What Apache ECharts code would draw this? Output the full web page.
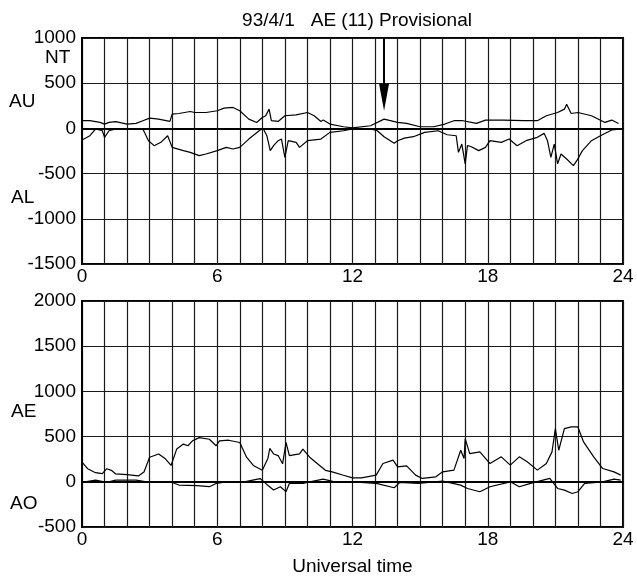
<!DOCTYPE html>
<html>
<head>
<meta charset="utf-8">
<script src="https://cdn.jsdelivr.net/npm/echarts@6/dist/echarts.min.js"></script>
<style>html,body{margin:0;padding:0;background:#fff}#c{width:637px;height:577px}</style>
</head>
<body>
<div id="c"></div>
<script>
// ---- Data (hours UT, values nT) ----
var xTickLabels = [0, 6, 12, 18, 24];
var topYTicks = [-1500, -1000, -500, 0, 500, 1000];
var bottomYTicks = [-500, 0, 500, 1000, 1500, 2000];

var auHours = [0, 0.35, 0.8, 1.0, 1.2, 1.5, 2.0, 2.4, 2.7, 3.0, 3.4, 3.9, 4.0, 4.3, 4.8, 5.0, 5.5, 6.0, 6.3, 6.7, 7.0, 7.4, 7.75, 8.0, 8.15, 8.3, 8.4, 8.7, 9.0, 9.5, 10.0, 10.3, 10.6, 10.7, 11.0, 11.6, 12.0, 12.8, 13.4, 14.0, 14.4, 15.0, 15.6, 16.1, 16.5, 16.9, 17.5, 17.9, 18.7, 19.6, 20.2, 20.6, 21.1, 21.4, 21.5, 21.7, 22.0, 22.6, 23.2, 23.5, 23.8];
var auValues = [85, 85, 66, 48, 66, 74, 48, 55, 85, 114, 103, 77, 158, 165, 187, 176, 176, 195, 224, 232, 195, 103, 66, 121, 140, 213, 85, 77, 140, 150, 176, 140, 77, 92, 48, 18, 5, 29, 103, 66, 55, 18, 18, 48, 85, 85, 55, 92, 92, 85, 85, 140, 176, 213, 268, 165, 176, 140, 66, 92, 55];

var alHours = [0, 0.35, 0.6, 0.9, 1.0, 1.2, 1.5, 2.0, 2.7, 2.95, 3.2, 3.5, 3.8, 4.0, 4.5, 4.8, 5.2, 5.5, 6.0, 6.4, 6.7, 7.0, 7.4, 7.9, 8.05, 8.2, 8.35, 8.5, 8.7, 8.85, 9.0, 9.15, 9.5, 9.65, 10.0, 10.6, 11.0, 11.6, 12.0, 12.8, 13.1, 13.4, 13.85, 14.0, 14.3, 14.7, 15.2, 15.8, 16.2, 16.6, 16.7, 16.85, 17.0, 17.1, 17.25, 17.6, 17.9, 18.1, 18.6, 18.95, 19.3, 19.7, 20.2, 20.5, 20.65, 20.8, 20.95, 21.1, 21.25, 21.5, 21.8, 21.95, 22.2, 22.6, 23.0, 23.5, 23.85];
var alValues = [-129, -81, -7, -26, -99, -26, -7, -7, -7, -136, -191, -154, -81, -210, -246, -265, -301, -283, -246, -210, -228, -210, -118, -18, -7, -81, -246, -191, -136, -118, -320, -136, -154, -210, -136, -118, -44, -26, -7, -7, -26, -92, -165, -136, -107, -92, -44, -26, -70, -81, -265, -173, -393, -191, -200, -246, -210, -136, -154, -118, -191, -136, -99, -55, -136, -320, -173, -393, -283, -338, -412, -357, -246, -136, -81, -18, -7];

var aeHours = [0, 0.25, 0.6, 0.9, 1.1, 1.3, 1.5, 2.0, 2.5, 2.75, 3.0, 3.4, 3.7, 3.95, 4.2, 4.5, 4.7, 4.9, 5.2, 5.65, 5.95, 6.1, 6.5, 7.0, 7.3, 7.6, 8.0, 8.25, 8.33, 8.5, 8.7, 8.9, 9.05, 9.2, 9.65, 9.8, 10.1, 10.5, 10.8, 11.1, 11.6, 12.0, 12.4, 13.05, 13.35, 13.8, 14.0, 14.4, 14.8, 15.1, 15.7, 16.0, 16.5, 16.8, 16.95, 17.0, 17.2, 17.65, 18.1, 18.6, 19.0, 19.4, 19.75, 20.2, 20.6, 20.85, 21.0, 21.15, 21.4, 21.7, 22.0, 22.25, 22.7, 23.1, 23.6, 23.9];
var aeValues = [217, 145, 101, 91, 145, 127, 87, 80, 65, 109, 272, 308, 254, 181, 362, 417, 399, 453, 489, 471, 399, 453, 460, 435, 272, 181, 127, 261, 370, 308, 290, 199, 435, 290, 308, 362, 272, 188, 127, 109, 72, 43, 44, 74, 202, 239, 165, 176, 74, 37, 55, 110, 129, 349, 257, 478, 312, 331, 202, 276, 184, 276, 221, 129, 202, 331, 588, 349, 588, 607, 607, 441, 276, 147, 110, 74];

var aoHours = [0, 0.6, 1.1, 1.5, 2.4, 3.0, 3.9, 4.3, 5.1, 5.65, 5.95, 6.4, 7.2, 7.9, 8.2, 8.5, 8.8, 9.05, 9.2, 9.8, 10.1, 10.7, 11.3, 12.0, 13.05, 13.85, 14.1, 14.9, 16.0, 16.8, 17.1, 17.65, 18.1, 19.0, 19.4, 19.9, 20.75, 21.1, 21.4, 21.75, 22.0, 22.3, 23.1, 23.6, 23.9];
var aoValues = [-7, 18, -7, 18, 18, -7, 0, -36, -43, -54, -18, 0, 0, 36, -29, -90, -54, -109, -18, -18, 0, 29, -7, 0, -18, -66, -7, -18, 7, -37, -74, -110, -55, 0, -55, -18, 37, -74, -92, -129, -110, -18, 0, 29, 18];

var arrowHour = 13.4;
var arrowFrom = 1000;
var arrowTo = 345;

function pairs(h, v) { return h.map(function (x, i) { return [x, v[i]]; }); }

var FONT = 'Liberation Sans, Arial, Helvetica, sans-serif';
var FS = 19;
var chart = echarts.init(document.getElementById('c'), null, { renderer: 'canvas' });

function xAxis(gridIndex) {
  return {
    type: 'value', gridIndex: gridIndex, min: 0, max: 24, interval: 1,
    axisLine: { show: true, lineStyle: { color: '#000', width: 2 } },
    axisTick: { show: false },
    splitLine: { show: true, lineStyle: { color: '#1a1a1a', width: 1.2 } },
    axisLabel: {
      color: '#000', fontFamily: FONT, fontSize: FS, margin: 3,
      formatter: function (v) { return xTickLabels.indexOf(v) >= 0 ? String(v) : ''; }
    }
  };
}
function yAxis(gridIndex, ticks) {
  return {
    type: 'value', gridIndex: gridIndex, min: ticks[0], max: ticks[ticks.length - 1], interval: 500,
    axisLine: { show: true, lineStyle: { color: '#000', width: 2 } },
    axisTick: { show: false },
    splitLine: { show: true, lineStyle: { color: '#1a1a1a', width: 1.2 } },
    axisLabel: { color: '#000', fontFamily: FONT, fontSize: FS, margin: 6,
      formatter: function (v) { return String(v); } }
  };
}
var lineStyle = { color: '#000', width: 1.2 };

chart.setOption({
  animation: false,
  backgroundColor: '#fff',
  title: {
    text: '93/4/1   AE (11) Provisional', left: 352, top: 6, textAlign: 'center',
    textStyle: { color: '#000', fontFamily: FONT, fontSize: FS, fontWeight: 'normal' }
  },
  grid: [
    { left: 82, right: 14, top: 38, height: 226, show: true, borderColor: '#000', borderWidth: 2 },
    { left: 82, right: 14, top: 301, height: 227, show: true, borderColor: '#000', borderWidth: 2 }
  ],
  xAxis: [xAxis(0), Object.assign(xAxis(1), {
    name: 'Universal time', nameLocation: 'middle', nameGap: 30,
    nameTextStyle: { color: '#000', fontFamily: FONT, fontSize: FS }
  })],
  yAxis: [yAxis(0, topYTicks), yAxis(1, bottomYTicks)],
  series: [
    { type: 'line', xAxisIndex: 0, yAxisIndex: 0, data: pairs(auHours, auValues), symbol: 'none', lineStyle: lineStyle,
      markLine: {
        silent: true, symbol: ['none', 'triangle'], symbolSize: [10, 27], symbolRotate: 180,
        label: { show: false },
        lineStyle: { color: '#000', width: 2, type: 'solid' },
        data: [[{ coord: [arrowHour, arrowFrom] }, { coord: [arrowHour, arrowTo] }]]
      }
    },
    { type: 'line', xAxisIndex: 0, yAxisIndex: 0, data: pairs(alHours, alValues), symbol: 'none', lineStyle: lineStyle },
    { type: 'line', xAxisIndex: 1, yAxisIndex: 1, data: pairs(aeHours, aeValues), symbol: 'none', lineStyle: lineStyle },
    { type: 'line', xAxisIndex: 1, yAxisIndex: 1, data: pairs(aoHours, aoValues), symbol: 'none', lineStyle: lineStyle }
  ],
  graphic: [
    { type: 'text', left: 45, top: 48, style: { text: 'NT', fill: '#000', font: FS + 'px ' + FONT } },
    { type: 'text', left: 9, top: 92, style: { text: 'AU', fill: '#000', font: FS + 'px ' + FONT } },
    { type: 'text', left: 11, top: 188, style: { text: 'AL', fill: '#000', font: FS + 'px ' + FONT } },
    { type: 'text', left: 11, top: 402, style: { text: 'AE', fill: '#000', font: FS + 'px ' + FONT } },
    { type: 'text', left: 10, top: 494, style: { text: 'AO', fill: '#000', font: FS + 'px ' + FONT } }
  ]
});
</script>
</body>
</html>
